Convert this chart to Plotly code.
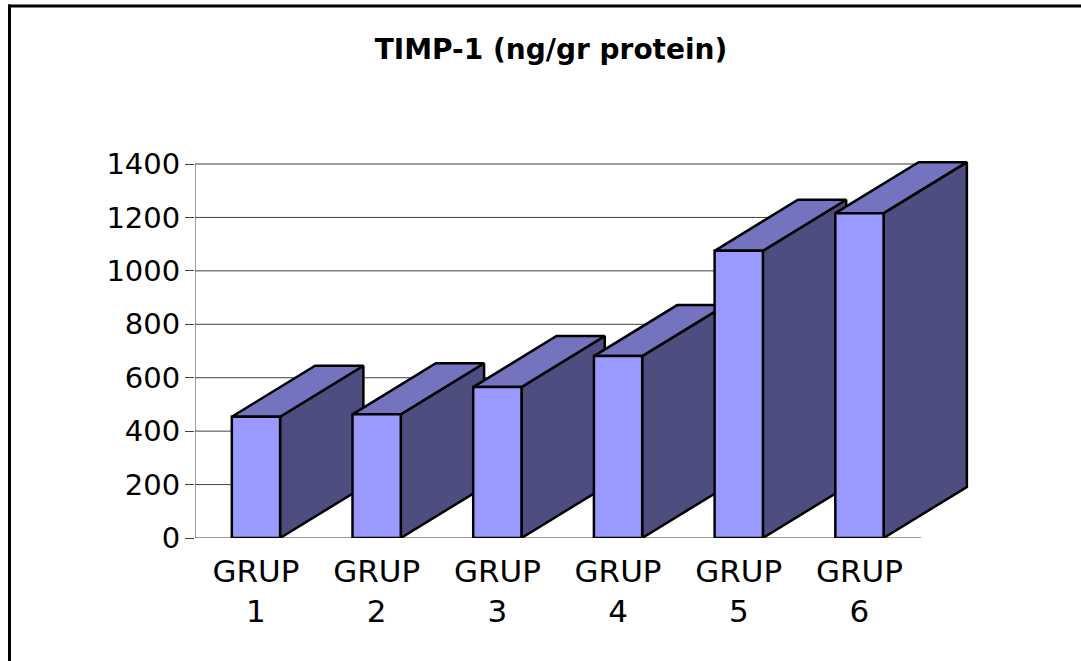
import plotly.graph_objects as go

# ---- data ----
categories = ["GRUP<br>1", "GRUP<br>2", "GRUP<br>3", "GRUP<br>4", "GRUP<br>5", "GRUP<br>6"]
values = [454, 463, 565, 681, 1075, 1216]
y_ticks = [0, 200, 400, 600, 800, 1000, 1200, 1400]
title_text = "TIMP-1 (ng/gr protein)"

# ---- style constants ----
W, H = 1081, 661
ML, MR, MT, MB = 195, 107, 160, 123
HALF = 0.2          # half width of bar front (category units)
DX, DY = 0.69, 191  # 3D depth offset (category units, value units)
FRONT, TOP, SIDE = "#9999FF", "#7373BF", "#4D4D80"
GRID = "#404040"
FONT = "DejaVu Sans"
XMIN, XMAX = -0.505, 5.949
YMAX = 1415
WALL_END = 5.51

xs = list(range(len(values)))

def poly_trace(xpts, ypts, color):
    return go.Scatter(x=xpts, y=ypts, mode="lines", fill="toself", fillcolor=color,
                      line=dict(color="black", width=2.5), hoverinfo="skip", showlegend=False)

side_x, side_y, top_x, top_y, front_x, front_y = [], [], [], [], [], []
for x, v in zip(xs, values):
    side_x += [x + HALF, x + HALF, x + HALF + DX, x + HALF + DX, x + HALF, None]
    side_y += [0, v, v + DY, DY, 0, None]
    top_x += [x - HALF, x + HALF, x + HALF + DX, x - HALF + DX, x - HALF, None]
    top_y += [v, v, v + DY, v + DY, v, None]
    front_x += [x - HALF, x + HALF, x + HALF, x - HALF, x - HALF, None]
    front_y += [0, 0, v, v, 0, None]

fig = go.Figure()
fig.add_trace(poly_trace(side_x, side_y, SIDE))
fig.add_trace(poly_trace(top_x, top_y, TOP))
fig.add_trace(poly_trace(front_x, front_y, FRONT))

shapes = []
# gridlines on the wall
for t in y_ticks:
    shapes.append(dict(type="line", xref="x", yref="y", x0=XMIN, x1=WALL_END, y0=t, y1=t,
                       line=dict(color=GRID, width=1), layer="below"))
# value axis line
shapes.append(dict(type="line", xref="x", yref="y", x0=XMIN, x1=XMIN, y0=0, y1=max(y_ticks),
                   line=dict(color=GRID, width=1), layer="below"))

# outer chart border (top and left)
pw = W - ML - MR
ph = H - MT - MB
def px_to_paper_x(px):
    return (px - ML) / pw
def px_to_paper_y(py):
    return (H - MB - py) / ph
shapes.append(dict(type="line", xref="paper", yref="paper",
                   x0=px_to_paper_x(8), x1=px_to_paper_x(W + 5), y0=px_to_paper_y(6), y1=px_to_paper_y(6),
                   line=dict(color="black", width=3)))
shapes.append(dict(type="line", xref="paper", yref="paper",
                   x0=px_to_paper_x(9.5), x1=px_to_paper_x(9.5), y0=px_to_paper_y(4.5), y1=px_to_paper_y(H + 5),
                   line=dict(color="black", width=3)))

fig.update_layout(
    width=W, height=H,
    margin=dict(l=ML, r=MR, t=MT, b=MB, pad=0),
    paper_bgcolor="white", plot_bgcolor="white",
    showlegend=False,
    shapes=shapes,
    title=dict(text=f"<b>{title_text}</b>", x=551 / W, xanchor="center",
               y=1 - 49 / H, yanchor="middle", yref="container",
               font=dict(family=FONT, size=28, color="black")),
    xaxis=dict(range=[XMIN, XMAX], tickvals=xs, ticktext=categories, showgrid=False,
               zeroline=False, showline=False, ticks="", fixedrange=True,
               ticklabelstandoff=12,
               tickfont=dict(family=FONT, size=31, color="black")),
    yaxis=dict(range=[0, YMAX], tickvals=y_ticks, showgrid=False, zeroline=False,
               showline=False, ticks="outside", ticklen=9, tickcolor=GRID, tickwidth=1,
               ticklabelstandoff=-1, fixedrange=True,
               tickfont=dict(family=FONT, size=29, color="black")),
)
fig.write_html("out.html", config={"displayModeBar": False},
               post_script="document.body.style.margin='0';document.body.style.overflow='hidden';")
